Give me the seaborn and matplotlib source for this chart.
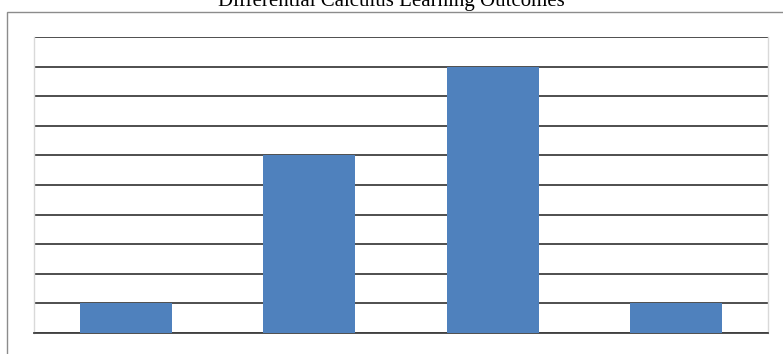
import matplotlib
matplotlib.use("Agg")
import matplotlib.pyplot as plt
import matplotlib.patches as patches
import numpy as np
import pandas as pd
import seaborn as sns

# data
categories = ["Outcome 1", "Outcome 2", "Outcome 3", "Outcome 4"]
counts = [1, 6, 9, 1]
title = "Differential Calculus Learning Outcomes"

sns.set_style("white")
plt.rcParams['font.family'] = ['Liberation Serif', 'DejaVu Serif']

df = pd.DataFrame({"cat": categories, "count": counts})

fig = plt.figure(figsize=(7.83, 3.54), dpi=100)
ax = fig.add_axes([34/783, 1-333/354, (768-34)/783, (333-37)/354])

sns.barplot(data=df, x="cat", y="count", color="#4f81bd", width=0.5,
            saturation=1, linewidth=0, ax=ax, zorder=3)

ax.set_ylim(0, 10)
ax.set_xlim(-0.5, 3.5)
ax.set_yticks(np.arange(0, 11, 1))
ax.yaxis.grid(True, color="#404040", lw=1.3, zorder=1)
ax.set_axisbelow(True)
ax.tick_params(left=False, bottom=False, labelleft=False, labelbottom=False)
ax.set_xlabel("")
ax.set_ylabel("")
for s in ["left", "right"]:
    ax.spines[s].set_color("#d9d9d9")
    ax.spines[s].set_linewidth(1.0)
ax.spines["top"].set_visible(False)
ax.spines["bottom"].set_color("#404040")
ax.spines["bottom"].set_linewidth(1.3)

# outer chart frame, cut off at right and bottom
frame = patches.Rectangle((7.5/783, -0.1), 1.2, 1 - 12/354 + 0.1,
                          transform=fig.transFigure, fill=False,
                          edgecolor="#8c8c8c", lw=1.0)
fig.patches.append(frame)

fig.text(391/783, 1 - 6/354, title, ha="center", va="baseline",
         fontsize=15, color="black")

fig.savefig("out.png", dpi=100)
